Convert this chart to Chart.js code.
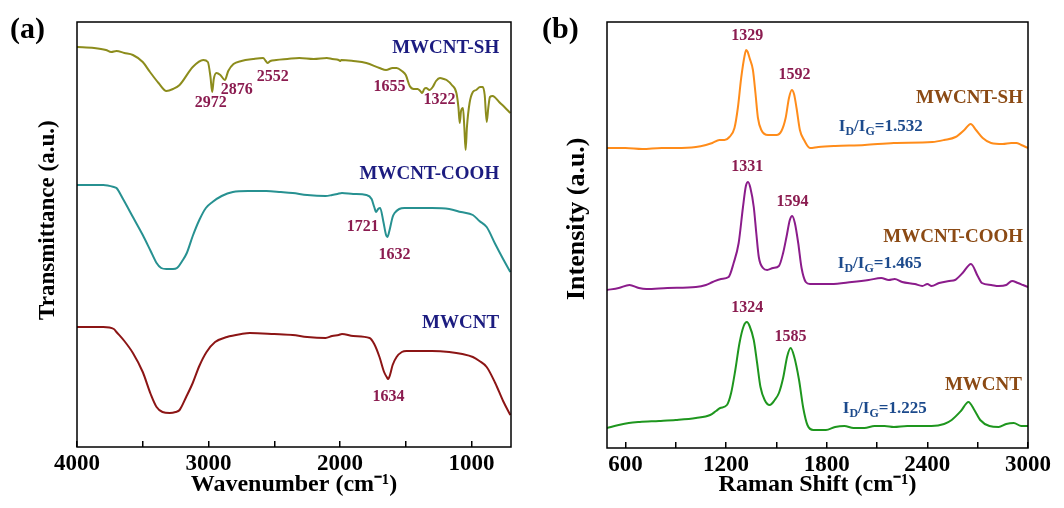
<!DOCTYPE html>
<html>
<head>
<meta charset="utf-8">
<script src="https://cdn.jsdelivr.net/npm/chart.js@4.4.1/dist/chart.umd.min.js"></script>
<style>
  html, body { margin: 0; padding: 0; background: #fff; }
  #wrap { position: relative; width: 1064px; height: 508px; }
  #chartFtir { position: absolute; left: 0; top: 0; }
  #chartRaman { position: absolute; left: 532px; top: 0; }
</style>
</head>
<body>
<div id="wrap">
  <canvas id="chartFtir" width="532" height="508"></canvas>
  <canvas id="chartRaman" width="532" height="508"></canvas>
</div>
<script>
// ---- (a) FTIR, wavenumber (cm-1) vs transmittance (a.u., stacked offsets)
const ftirShWn = [4000, 3870, 3780, 3740, 3700, 3640, 3575, 3500, 3445, 3380, 3320, 3270, 3220, 3120, 3040, 3005, 2985, 2972, 2960, 2940, 2910, 2876, 2850, 2810, 2750, 2660, 2585, 2565, 2552, 2530, 2485, 2400, 2310, 2200, 2100, 2060, 2010, 2000, 1990, 1900, 1800, 1700, 1650, 1600, 1570, 1530, 1500, 1470, 1440, 1410, 1390, 1375, 1360, 1345, 1320, 1295, 1270, 1240, 1210, 1190, 1150, 1115, 1100, 1090, 1080, 1065, 1055, 1045, 1035, 1015, 990, 965, 935, 915, 900, 885, 872, 860, 840, 825, 790, 750, 705];
const ftirShT = [400, 399, 397, 395, 396, 394, 392, 385, 375, 364, 356, 358, 362, 380, 387, 385, 370, 355, 368, 374, 372, 367, 376, 383, 386, 388, 389, 386, 384, 386, 387, 388, 389, 388, 389, 388, 387, 386, 387, 386, 384, 379, 377, 379, 379, 376, 372, 361, 358, 358, 356, 354, 358, 359, 357, 360, 366, 369, 368, 367, 362, 354, 340, 324, 336, 339, 320, 297, 320, 344, 355, 357, 360, 360, 352, 325, 340, 350, 351, 350, 345, 340, 334];

const ftirCoohWn = [4000, 3800, 3720, 3700, 3650, 3575, 3500, 3440, 3395, 3360, 3320, 3270, 3240, 3200, 3165, 3120, 3070, 3020, 2970, 2900, 2815, 2700, 2560, 2450, 2360, 2250, 2110, 2060, 2020, 1985, 1900, 1800, 1760, 1740, 1725, 1710, 1695, 1670, 1650, 1640, 1625, 1600, 1585, 1550, 1510, 1400, 1300, 1170, 1080, 990, 940, 885, 820, 760, 705];
const ftirCoohT = [262, 262, 260, 259, 248, 230, 212, 196, 184, 179, 178, 178, 179, 186, 194, 211, 227, 239, 245, 251, 255, 256, 256, 255, 254, 252, 251, 252, 253, 254, 253, 252, 248, 240, 235, 238, 239, 225, 212, 210, 216, 230, 234, 238, 239, 239, 239, 238, 235, 232, 226, 220, 203, 188, 175];

const ftirCntWn = [4000, 3800, 3720, 3700, 3640, 3575, 3500, 3440, 3395, 3350, 3295, 3250, 3220, 3170, 3120, 3070, 3015, 2950, 2860, 2750, 2685, 2500, 2360, 2250, 2110, 2060, 2010, 1985, 1900, 1775, 1740, 1700, 1665, 1645, 1634, 1620, 1600, 1570, 1530, 1495, 1300, 1170, 1070, 990, 940, 885, 820, 760, 705];
const ftirCntT = [120, 120, 118, 115, 106, 94, 75, 53, 40, 35, 34, 35, 37, 50, 64, 81, 95, 105, 110, 113, 114, 113, 112, 110, 109, 111, 112, 113, 111, 109, 103, 90, 75, 70, 68, 72, 82, 90, 95, 96, 96, 95, 93, 90, 86, 80, 64, 46, 32];

const ftirTicks = [1000, 1500, 2000, 2500, 3000, 3500, 4000];

// ---- (b) Raman, shift (cm-1) vs intensity (a.u., stacked offsets)
const ramanShX = [490, 600, 700, 816, 900, 1020, 1080, 1118, 1160, 1190, 1220, 1250, 1270, 1290, 1310, 1320, 1329, 1340, 1360, 1375, 1390, 1410, 1450, 1500, 1530, 1555, 1575, 1592, 1605, 1620, 1640, 1665, 1700, 1750, 1850, 2027, 2200, 2430, 2500, 2568, 2620, 2658, 2690, 2730, 2780, 2850, 2900, 2930, 2960, 3000];
const ramanShY = [300, 300, 299, 300, 300, 301, 303, 305, 308, 308, 311, 320, 340, 370, 392, 398, 396, 390, 378, 355, 330, 318, 313, 313, 317, 330, 350, 358, 354, 340, 318, 308, 300, 301, 302, 303, 305, 306, 308, 311, 318, 324, 318, 310, 305, 304, 305, 305, 303, 300];

const ramanCoohX = [490, 560, 624, 680, 725, 850, 1020, 1080, 1120, 1170, 1215, 1245, 1275, 1300, 1318, 1331, 1345, 1365, 1380, 1395, 1420, 1445, 1480, 1515, 1540, 1560, 1580, 1594, 1610, 1630, 1650, 1675, 1700, 1825, 1950, 2050, 2125, 2170, 2205, 2250, 2325, 2370, 2400, 2425, 2470, 2530, 2565, 2610, 2660, 2700, 2725, 2780, 2825, 2870, 2905, 2940, 2970, 3000];
const ramanCoohY = [158, 160, 163, 160, 159, 160, 161, 163, 166, 169, 171, 185, 205, 240, 262, 266, 260, 241, 215, 191, 180, 178, 180, 182, 195, 211, 228, 232, 225, 205, 180, 166, 164, 164, 166, 168, 170, 168, 169, 166, 164, 162, 164, 162, 165, 167, 168, 175, 184, 172, 165, 163, 162, 163, 167, 165, 163, 161];

const ramanCntX = [490, 560, 620, 685, 800, 900, 1020, 1105, 1140, 1165, 1205, 1230, 1255, 1280, 1305, 1324, 1340, 1365, 1385, 1405, 1430, 1460, 1490, 1515, 1540, 1565, 1585, 1605, 1635, 1660, 1685, 1720, 1795, 1850, 1905, 1960, 2025, 2085, 2145, 2200, 2280, 2350, 2425, 2500, 2545, 2600, 2645, 2680, 2715, 2770, 2825, 2870, 2915, 2960, 3000];
const ramanCntY = [20, 23, 25, 26, 27, 28, 30, 33, 37, 40, 43, 55, 78, 105, 122, 126, 122, 108, 85, 61, 48, 43, 48, 55, 70, 92, 100, 92, 68, 40, 23, 18, 18, 21, 22, 20, 20, 22, 22, 21, 22, 22, 22, 24, 28, 37, 46, 38, 28, 22, 21, 24, 25, 22, 22];

const ramanTicks = [600, 900, 1200, 1500, 1800, 2100, 2400, 2700, 3000];

const ftirLabels = [
  { text: 'MWCNT-SH', x: 790, y: 399, kind: 'name', align: 'right' },
  { text: '2972', x: 2983, y: 344, kind: 'peak' },
  { text: '2876', x: 2785, y: 357, kind: 'peak' },
  { text: '2552', x: 2512, y: 370, kind: 'peak' },
  { text: '1655', x: 1623, y: 360, kind: 'peak' },
  { text: '1322', x: 1244, y: 347, kind: 'peak' },
  { text: 'MWCNT-COOH', x: 790, y: 273, kind: 'name', align: 'right' },
  { text: '1721', x: 1828, y: 220, kind: 'peak' },
  { text: '1632', x: 1585, y: 192, kind: 'peak' },
  { text: 'MWCNT', x: 790, y: 124, kind: 'name', align: 'right' },
  { text: '1634', x: 1631, y: 50, kind: 'peak' }
];

const ramanLabels = [
  { text: '1329', x: 1326, y: 412, kind: 'peak' },
  { text: '1592', x: 1608, y: 373, kind: 'peak' },
  { text: 'MWCNT-SH', x: 2970, y: 350, kind: 'name', align: 'right' },
  { ratio: '1.532', x: 1872, y: 323 },
  { text: '1331', x: 1326, y: 281, kind: 'peak' },
  { text: '1594', x: 1596, y: 246, kind: 'peak' },
  { text: 'MWCNT-COOH', x: 2970, y: 211, kind: 'name', align: 'right' },
  { ratio: '1.465', x: 1866, y: 186 },
  { text: '1324', x: 1326, y: 140, kind: 'peak' },
  { text: '1585', x: 1584, y: 111, kind: 'peak' },
  { text: 'MWCNT', x: 2964, y: 63, kind: 'name', align: 'right' },
  { ratio: '1.225', x: 1896, y: 41 }
];

const SERIF = "'Liberation Serif', 'Times New Roman', serif";

const toPoints = (xs, ys) => xs.map((x, i) => ({ x: x, y: ys[i] }));

const line = (label, xs, ys, color) => ({
  label: label,
  data: toPoints(xs, ys),
  borderColor: color,
  borderWidth: 2,
  pointRadius: 0,
  fill: false,
  cubicInterpolationMode: 'monotone'
});

// box round the plot area, panel letter and the text labels
const panelDecor = {
  id: 'panelDecor',
  afterDraw(chart, args, opts) {
    const { ctx, chartArea, scales } = chart;
    ctx.save();
    ctx.strokeStyle = '#000';
    ctx.lineWidth = 1.5;
    ctx.strokeRect(chartArea.left, chartArea.top, chartArea.right - chartArea.left, chartArea.bottom - chartArea.top);

    ctx.fillStyle = '#000';
    ctx.font = `bold 30px ${SERIF}`;
    ctx.textAlign = 'left';
    ctx.textBaseline = 'middle';
    ctx.fillText(opts.panel, 10, 30);

    opts.items.forEach(item => {
      const px = scales.x.getPixelForValue(item.x);
      const py = scales.y.getPixelForValue(item.y);
      if (item.ratio) {
        // I_D/I_G=...
        let cx = px;
        const base = py + 6;
        ctx.fillStyle = opts.ratioColor;
        ctx.textAlign = 'left';
        ctx.textBaseline = 'alphabetic';
        const parts = [['I', 17, 0], ['D', 12, 4], ['/I', 17, 0], ['G', 12, 4], ['=' + item.ratio, 17, 0]];
        parts.forEach(([t, size, drop]) => {
          ctx.font = `bold ${size}px ${SERIF}`;
          ctx.fillText(t, cx, base + drop);
          cx += ctx.measureText(t).width;
        });
        return;
      }
      const isName = item.kind === 'name';
      ctx.font = isName ? `bold 19px ${SERIF}` : `bold 16px ${SERIF}`;
      ctx.fillStyle = isName ? opts.nameColor : opts.peakColor;
      ctx.textAlign = item.align || 'center';
      ctx.textBaseline = 'middle';
      ctx.fillText(item.text, px, py);
    });
    ctx.restore();
  }
};

const xAxis = (min, max, reverse, ticks, every, title, height) => ({
  type: 'linear',
  min: min,
  max: max,
  reverse: reverse,
  afterBuildTicks: scale => { scale.ticks = ticks.map(v => ({ value: v })); },
  afterFit: scale => { scale.height = height; },
  border: { display: false },
  grid: { drawOnChartArea: false, drawTicks: true, tickLength: -6, color: '#000', lineWidth: 1.5 },
  ticks: {
    padding: 9,
    color: '#000',
    font: { family: SERIF, size: 23, weight: 'bold' },
    maxRotation: 0,
    autoSkip: false,
    callback: v => (v % every === 0 ? String(v) : '')
  },
  title: {
    display: true,
    text: title,
    color: '#000',
    font: { family: SERIF, size: 24, weight: 'bold' },
    padding: { top: 0, bottom: 9 }
  }
});

const yAxis = (max, width, title, size, pad) => ({
  type: 'linear',
  min: 0,
  max: max,
  afterFit: scale => { scale.width = width; },
  border: { display: false },
  grid: { display: false },
  ticks: { display: false },
  title: {
    display: true,
    text: title,
    color: '#000',
    font: { family: SERIF, size: size, weight: 'bold' },
    padding: { top: pad, bottom: 0 }
  }
});

new Chart(document.getElementById('chartFtir'), {
  type: 'line',
  data: {
    datasets: [
      line('MWCNT-SH', ftirShWn, ftirShT, '#8c8c1c'),
      line('MWCNT-COOH', ftirCoohWn, ftirCoohT, '#279191'),
      line('MWCNT', ftirCntWn, ftirCntT, '#8c1515')
    ]
  },
  options: {
    responsive: false,
    animation: false,
    layout: { padding: { top: 22, right: 21, left: 0, bottom: 0 } },
    scales: {
      x: xAxis(700, 4000, true, ftirTicks, 1000, 'Wavenumber (cm\u207B\u00B9)', 61),
      // leading spaces nudge the rotated title up a little, as in the original
      y: yAxis(425, 77, '\u00A0\u00A0\u00A0\u00A0\u00A0Transmittance (a.u.)', 23, 34)
    },
    plugins: {
      legend: { display: false },
      tooltip: { enabled: false },
      panelDecor: { panel: '(a)', items: ftirLabels, nameColor: '#1c1c80', peakColor: '#8b1c50' }
    }
  },
  plugins: [panelDecor]
});

new Chart(document.getElementById('chartRaman'), {
  type: 'line',
  data: {
    datasets: [
      line('MWCNT-SH', ramanShX, ramanShY, '#ff8c1a'),
      line('MWCNT-COOH', ramanCoohX, ramanCoohY, '#8b1c8b'),
      line('MWCNT', ramanCntX, ramanCntY, '#1e961e')
    ]
  },
  options: {
    responsive: false,
    animation: false,
    layout: { padding: { top: 22, right: 36, left: 0, bottom: 0 } },
    scales: {
      x: xAxis(490, 3000, false, ramanTicks, 600, 'Raman Shift (cm\u207B\u00B9)', 60),
      y: yAxis(426, 75, '\u00A0\u00A0\u00A0\u00A0\u00A0Intensity (a.u.)', 26, 30)
    },
    plugins: {
      legend: { display: false },
      tooltip: { enabled: false },
      panelDecor: { panel: '(b)', items: ramanLabels, nameColor: '#8b4a14', peakColor: '#8b1c50', ratioColor: '#1c4a8c' }
    }
  },
  plugins: [panelDecor]
});
</script>
</body>
</html>
